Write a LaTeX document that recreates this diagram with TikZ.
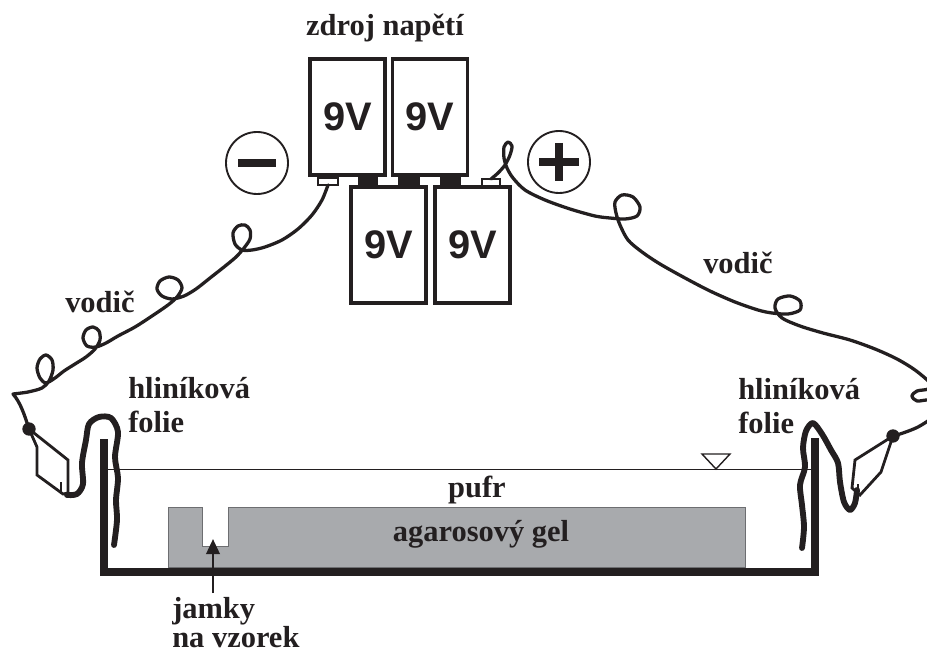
\documentclass[tikz,border=0pt]{standalone}
\usepackage{fontspec}
\setmainfont{Liberation Serif}
\newfontfamily\battfont{Liberation Sans}
\usetikzlibrary{arrows.meta,positioning}
\definecolor{ink}{HTML}{231F20}
\definecolor{gelgray}{HTML}{A8AAAD}
\definecolor{geledge}{HTML}{6D6E71}
\tikzset{
  % 9 V block: thick outline, big sans label
  batt/.style  = {rectangle, draw=ink, line width=3.2pt, minimum width=2.25cm,
                  minimum height=3.48cm, inner sep=0pt, text=ink,
                  font=\battfont\bfseries\fontsize{34}{36}\selectfont},
  lbl/.style   = {text=ink, inner sep=3pt, align=left,
                  font=\bfseries\fontsize{26}{29}\selectfont},
  pole/.style  = {circle, draw=ink, line width=1.6pt, minimum size=1.86cm, inner sep=0pt},
  sgn/.style   = {ink, line width=0.26cm},
  term/.style  = {draw=ink, fill=white, line width=1.2pt},
  wire/.style  = {ink, line width=2.8pt, line cap=round, line join=round},
  foil/.style  = {ink, line width=5pt, line cap=round, line join=round},
  wall/.style  = {ink, line width=7.5pt, line join=miter},
  clamp/.style = {ink, line width=2.4pt, line join=miter},
  pt/.style    = {circle, fill=ink, inner sep=0pt, minimum size=0.4cm},
  arr/.style   = {-{Triangle[length=0.45cm, width=0.4cm]}, ink, line width=2.2pt},
}

\begin{document}
\begin{tikzpicture}[x=0.03cm, y=-0.03cm]
\useasboundingbox (0,0) rectangle (927,653);
\clip (0,0) rectangle (927,653);
% --- power supply: four 9 V blocks in series ------------------------------
\fill[ink] (358,176) rectangle (378,186);
\fill[ink] (398,176) rectangle (420,186);
\fill[ink] (440,176) rectangle (461,186);
\node[batt] (batTL) at (347.5,117) {9V};
\node[batt] (batTR) at (430,117) {9V};
\node[batt] (batBL) at (388.5,245) {9V};
\node[batt] (batBR) at (472.5,245) {9V};
\draw[term] (318,178) rectangle (338,185);
\draw[term] (482,179) rectangle (500,186);
\coordinate (termL) at (328,185);
\coordinate (termR) at (491,179);
\node[lbl, anchor=base] (lblSource) at (385,36) {zdroj napětí};
% --- poles ------------------------------------------------------------------
\node[pole] (minus) at (257,163) {};
\node[pole] (plus) at (559,162) {};
\draw[sgn] (minus.center) ++(-19,0) -- ++(38,0);
\draw[sgn] (plus.center) ++(-20,0) -- ++(40,0) (plus.center) ++(0,-19) -- ++(0,38);
% --- buffer level -----------------------------------------------------------
\draw[ink, line width=0.8pt] (108,469) -- (811,469);
\draw[ink, line width=1.2pt, fill=white] (702,454) -- (730,454) -- (716,469) -- cycle;
% --- gel with the well --------------------------------------------------------
\draw[geledge, fill=gelgray, line width=0.8pt]
  (168,567) |- (202,507) |- (228,546) |- (745,507) -- (745,567) -- cycle;
% --- tank -------------------------------------------------------------------
\draw[wall] (104,439) -- (104,572) -- (815,572) -- (815,438);
% --- aluminium foil electrodes ------------------------------------------------
\draw[foil] plot[smooth] coordinates {(67,495) (77,494) (83,484) (82,463) (86,440)
  (89,424) (99,417) (111,418) (118,432) (115,457) (118,478) (116,500) (117,520) (114,545)};
\draw[foil] plot[smooth] coordinates {(857,490) (855,503) (850,510) (844,502) (840,482)
  (838,463) (831,450) (822,434) (813,423) (806,431) (803,448) (805,467) (800,485)
  (802,505) (804,527) (802,548)};
% --- clamps -----------------------------------------------------------------
\coordinate (clipL) at (29,429);
\coordinate (clipR) at (893,436);
\draw[clamp] (clipL) -- (37,447) -- (37,475) -- (63,494) -- (68,493) -- (68,460) -- cycle;
\draw[clamp] (61,482) -- (61,494);
\draw[clamp] (clipR) -- (855,460) -- (852,488) -- (860,495) -- (881,472) -- cycle;
\draw[clamp] (858,484) -- (858,496);
\node[pt] (dotL) at (clipL) {};
\node[pt] (dotR) at (clipR) {};
% --- coiled leads -------------------------------------------------------------
\draw[wire] plot[smooth] coordinates {(termL) (322,200) (312,215) (298,229) (282,240)
  (265,247) (252,250) (242,250) (235,244) (233,233) (238,226) (245,225) (250,230)
  (250,239) (244,248) (236,257) (224,267) (210,278) (196,289) (184,296) (172,299)
  (162,296) (157,289) (160,281) (169,277) (178,280) (182,288) (177,297) (168,305)
  (152,316) (135,327) (118,336) (106,343) (96,347) (87,346) (83,338) (86,330)
  (93,327) (99,331) (100,340) (95,349) (86,357) (75,364) (64,371) (55,378) (46,383)
  (40,378) (37,368) (40,359) (46,355) (52,360) (53,370) (49,381) (42,388) (28,392)
  (13,394)} .. controls (20,402) and (24,413) .. (dotL.center);
\draw[wire] plot[smooth] coordinates {(termR) (498,173) (505,165) (510,155) (512,146)
  (508,142) (504,147) (504,158) (507,168) (513,178) (525,190) (545,200) (570,209)
  (595,216) (610,218) (625,219) (637,216) (640,207) (633,197) (622,195) (615,202)
  (616,213) (620,225) (628,240) (642,252) (660,264) (685,278) (710,291) (735,302)
  (758,310) (772,313) (788,314) (800,310) (800,301) (790,296) (778,299) (775,308)
  (782,318) (800,326) (823,333) (850,340) (875,349) (897,359) (915,370) (930,383)
  (928,389) (917,391) (912,396) (917,401) (930,400) (938,407) (933,417) (918,427)
  (903,433) (dotR.center)};
% --- labels (two-line nodes sit on their last baseline) ---------------------
\node[lbl, anchor=base west] (lblWireL) at (61.5,312) {vodič};
\node[lbl, anchor=base west] (lblWireR) at (699.5,273) {vodič};
\node[lbl, anchor=base west] (lblFoilL) at (124.5,432) {hliníková\\folie};
\node[lbl, anchor=base west] (lblFoilR) at (734.5,433) {hliníková\\folie};
\node[lbl, anchor=base] (lblBuffer) at (477,497) {pufr};
\node[lbl, anchor=base] (lblGel) at (481,541) {agarosový gel};
\node[lbl, anchor=base west] (lblWells) at (168.5,647) {jamky\\[-4.3pt]na vzorek};
% --- well pointer -------------------------------------------------------------
\coordinate (well) at (213,539);
\draw[arr] (well |- lblWells.north) -- (well);
\end{tikzpicture}
\end{document}
